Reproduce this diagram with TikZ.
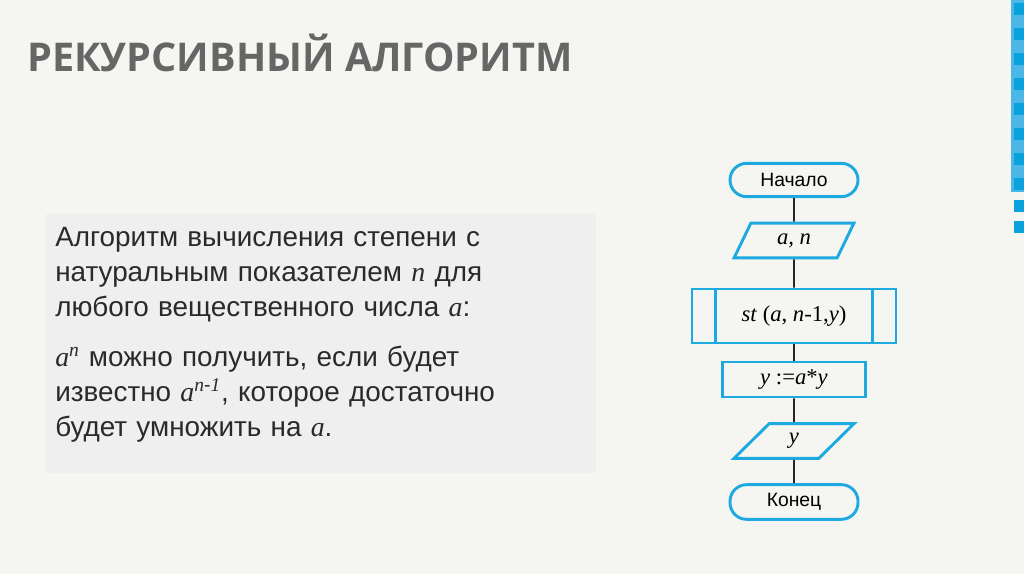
\documentclass[tikz,border=0pt]{standalone}
\usepackage{fontspec}
\setmainfont{Liberation Sans}
\newfontfamily\tmsfont{Liberation Serif}
\newfontfamily\ttlfont{Open Sans}
\usetikzlibrary{positioning,shapes.geometric}

\definecolor{bg}{HTML}{F5F6F1}
\definecolor{panel}{HTML}{EFEFEF}
\definecolor{flowblue}{HTML}{1FA9E1}
\definecolor{stripblue}{HTML}{4CB6E6}
\definecolor{sqblue}{HTML}{0AA1DC}
\definecolor{ttlgray}{HTML}{666666}
\definecolor{txtgray}{HTML}{2A2A2A}
\newcommand\vr[1]{{\tmsfont\itshape #1}}

\begin{document}
\begin{tikzpicture}[
  x=0.75pt, y=-0.75pt,
  box/.style={draw=flowblue, line width=2.2pt, fill=bg, inner sep=0pt, align=center,
              font=\fontsize{14.5}{16}\selectfont},
  term/.style={box, rounded corners=12.5pt, minimum width=96pt, minimum height=25pt},
  io/.style={box, trapezium, trapezium left angle=65, trapezium right angle=115,
             trapezium stretches=true, minimum width=90pt, minimum height=26pt,
             font=\tmsfont\itshape\fontsize{17}{19}\selectfont},
  proc/.style={box, minimum width=107pt, minimum height=26.25pt,
               font=\tmsfont\fontsize{17}{19}\selectfont},
  subproc/.style={proc, minimum width=153pt, minimum height=40.5pt},
  flow/.style={line width=1.3pt, draw=black!85}]

% Slide background and frame.
\fill[bg] (0,0) rectangle (1024,574);
\useasboundingbox (0,0) rectangle (1024,574);
\fill[stripblue] (1011,0) rectangle (1024,192);
\foreach \i in {0,...,7}
  \fill[sqblue] (1014,3+25*\i) rectangle (1024,15+25*\i);
\fill[sqblue] (1014,200) rectangle (1024,212);
\fill[sqblue] (1014,221) rectangle (1024,233);

% Title.
\node[anchor=base west, inner sep=0, text=ttlgray,
  font=\ttlfont\bfseries\fontsize{29.7}{36}\selectfont] (ttl) at (27,72)
  {РЕКУРСИВНЫЙ АЛГОРИТМ};

% Left: the description.
\fill[panel] (46,214) rectangle (596,473);
\node[anchor=north west, inner sep=0, text width=420pt, align=left, text=txtgray,
  font=\fontsize{20.9}{26.25}\selectfont] (desc) at (55,227)
  {Алгоритм вычисления степени с\\
   натуральным показателем \vr{n} для\\
   любого вещественного числа \vr{a}:\\[11.25pt]
   \vr{a}\textsuperscript{\vr{n}} можно получить, если будет\\
   известно \vr{a}\textsuperscript{\vr{n}-\vr{1}}, которое достаточно\\
   будет умножить на \vr{a}.};

% Right: the flowchart.
\node[term] (start) at (794,180) {Начало};
\node[io] (in) at (794,240.5) {a, n};
\node[subproc] (st) at (794,316) {\textit{st} (\textit{a}, \textit{n}-1,\textit{y})};
\draw[draw=flowblue, line width=2.2pt]
  ([xshift=18.75pt]st.north west) -- ([xshift=18.75pt]st.south west)
  ([xshift=-18.75pt]st.north east) -- ([xshift=-18.75pt]st.south east);
\node[proc] (mul) at (794,379.5) {\textit{y} :=\textit{a}*\textit{y}};
\node[io] (out) at (794,441) {y};
\node[term, minimum height=26pt] (end) at (794,502) {Конец};
\foreach \a/\b in {start/in, in/st, st/mul, mul/out, out/end}
  \draw[flow] (\a) -- (\b);
\end{tikzpicture}
\end{document}
